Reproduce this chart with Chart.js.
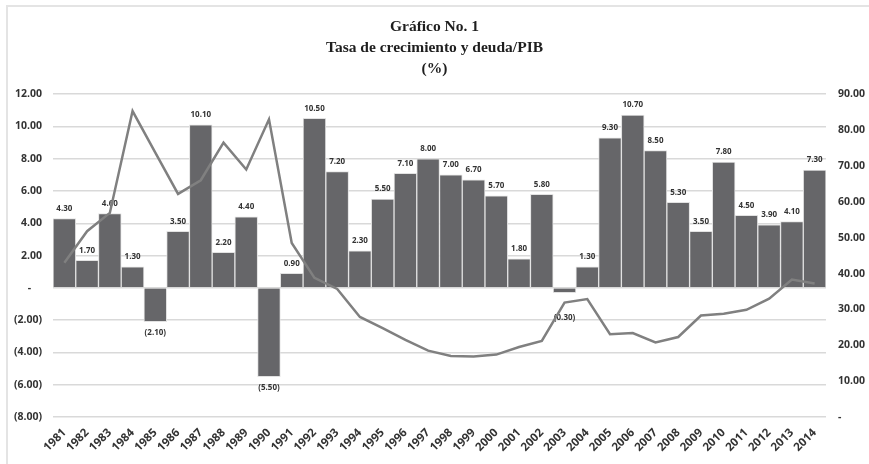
<!DOCTYPE html>
<html>
<head>
<meta charset="utf-8">
<script src="https://cdn.jsdelivr.net/npm/chart.js@4.4.1/dist/chart.umd.min.js"></script>
<style>
  html, body { margin: 0; padding: 0; background: #fff; }
  #wrap { position: relative; width: 869px; height: 464px; overflow: hidden; }
  #frame { position: absolute; left: 6px; top: 5px; width: 900px; height: 500px;
           border-top: 2px solid #e4e4e4; border-left: 2px solid #e4e4e4; }
  canvas { position: absolute; left: 0; top: 0; }
</style>
</head>
<body>
<div id="wrap">
  <div id="frame"></div>
  <canvas id="chart" width="869" height="464"></canvas>
</div>
<script>
/* Gráfico No. 1 — tasa de crecimiento (barras) y deuda/PIB (línea). */
(function () {
  const YEARS = ["1981","1982","1983","1984","1985","1986","1987","1988","1989","1990",
    "1991","1992","1993","1994","1995","1996","1997","1998","1999","2000",
    "2001","2002","2003","2004","2005","2006","2007","2008","2009","2010",
    "2011","2012","2013","2014"];
  const CRECIMIENTO = [4.3, 1.7, 4.6, 1.3, -2.1, 3.5, 10.1, 2.2, 4.4, -5.5,
    0.9, 10.5, 7.2, 2.3, 5.5, 7.1, 8.0, 7.0, 6.7, 5.7,
    1.8, 5.8, -0.3, 1.3, 9.3, 10.7, 8.5, 5.3, 3.5, 7.8,
    4.5, 3.9, 4.1, 7.3];
  const DEUDA_PIB = [43.0, 51.8, 56.9, 85.3, 73.7, 62.2, 66.0, 76.5, 69.0, 83.0,
    48.5, 38.8, 35.7, 27.9, 24.8, 21.5, 18.5, 17.0, 16.9, 17.4,
    19.5, 21.2, 31.9, 32.9, 23.1, 23.4, 20.8, 22.3, 28.3, 28.8,
    29.9, 33.0, 38.3, 37.2];
  const TITLE = ["Gráfico No. 1", "Tasa de crecimiento y deuda/PIB", "(%)"];

  const COL = { bar: "#666669", line: "#808080", grid: "#d9d9d9", text: "#333" };
  const SANS = "'Open Sans', Lato, sans-serif";
  const TICK_FONT = { family: SANS, size: 10.5, weight: "bold" };

  const fmtLeft = (v) => (v === 0 ? "-    " : v < 0 ? `(${Math.abs(v).toFixed(2)})` : v.toFixed(2));
  const fmtRight = (v) => (v === 0 ? "-" : v.toFixed(2));
  const fmtLabel = (v) => (v < 0 ? `(${Math.abs(v).toFixed(2)})` : v.toFixed(2));

  // labels drawn right after the bars, so the line sits on top of them
  const NUDGE = { 22: 14 }; // (0.30) pushed below the line, like the original
  const barLabels = {
    id: "barLabels",
    afterDatasetDraw(chart, args) {
      if (args.index !== 0) return;
      const ctx = chart.ctx;
      ctx.save();
      ctx.font = `bold 8px ${SANS}`;
      ctx.fillStyle = "#333";
      ctx.textAlign = "center";
      ctx.textBaseline = "middle";
      args.meta.data.forEach((bar, i) => {
        const v = CRECIMIENTO[i];
        const y = v >= 0 ? bar.y - 10 : bar.y + 11 + (NUDGE[i] || 0);
        ctx.fillText(fmtLabel(v), bar.x, y);
      });
      ctx.restore();
    },
  };

  new Chart(document.getElementById("chart"), {
    type: "bar",
    data: {
      labels: YEARS,
      datasets: [
        {
          label: "Crecimiento",
          data: CRECIMIENTO,
          backgroundColor: COL.bar,
          borderColor: "#e2e2e2",
          borderWidth: 1,
          barPercentage: 1,
          categoryPercentage: 1,
          yAxisID: "y",
          order: 1,
        },
        {
          type: "line",
          label: "Deuda/PIB",
          data: DEUDA_PIB,
          borderColor: COL.line,
          borderWidth: 2.5,
          pointRadius: 0,
          tension: 0,
          yAxisID: "y1",
          order: 0,
        },
      ],
    },
    plugins: [barLabels],
    options: {
      responsive: false,
      animation: false,
      layout: { padding: 0 },
      plugins: {
        legend: { display: false },
        tooltip: { enabled: false },
        title: {
          display: true,
          text: TITLE,
          color: "#1e1e1e",
          font: { family: "'Liberation Serif', 'Times New Roman', serif", size: 15.5, weight: "bold", lineHeight: 1.38 },
          padding: { top: 16, bottom: 14 },
        },
      },
      scales: {
        x: {
          grid: { display: false, drawTicks: false },
          border: { display: false },
          ticks: { color: COL.text, font: { family: SANS, size: 11.5, weight: "bold" }, minRotation: 45, maxRotation: 45, autoSkip: false, padding: 9 },
          afterFit: (s) => { s.height = 47; },
        },
        y: {
          position: "left",
          min: -8,
          max: 12,
          grid: { color: COL.grid, lineWidth: 1.5, drawTicks: false },
          border: { display: false },
          ticks: { stepSize: 2, color: COL.text, font: TICK_FONT, padding: 11, callback: fmtLeft },
          afterFit: (s) => { s.width = 53; },
        },
        y1: {
          position: "right",
          min: 0,
          max: 90,
          grid: { display: false, drawOnChartArea: false, drawTicks: false },
          border: { display: false },
          ticks: { stepSize: 10, color: COL.text, font: TICK_FONT, padding: 12, callback: fmtRight },
          afterFit: (s) => { s.width = 43; },
        },
      },
    },
  });
})();
</script>
</body>
</html>
